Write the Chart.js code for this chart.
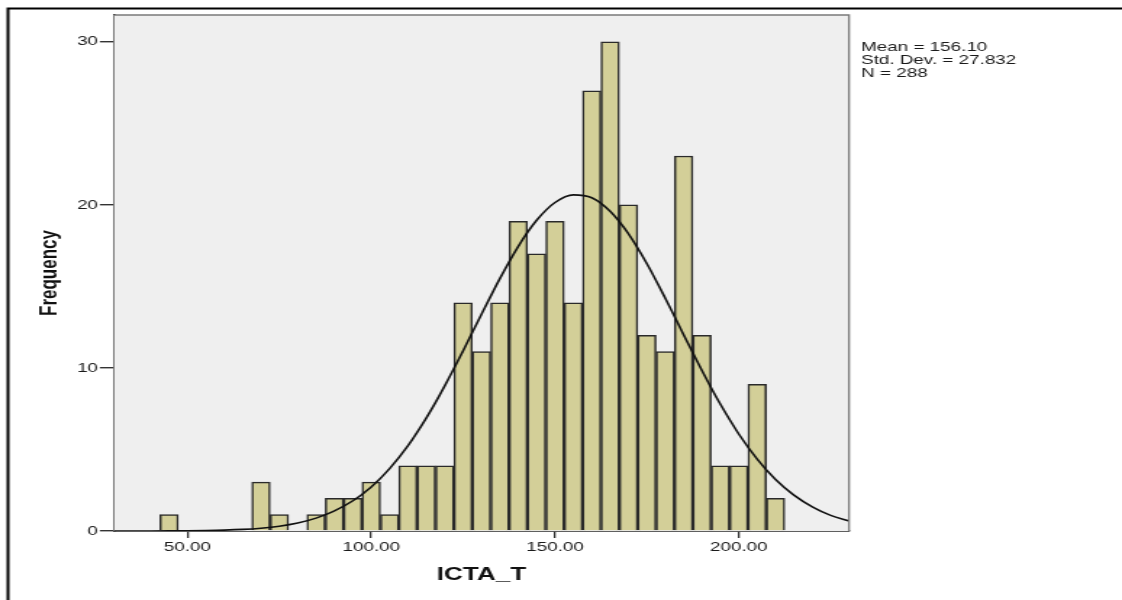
<!DOCTYPE html>
<html>
<head>
<meta charset="utf-8">
<script src="https://cdn.jsdelivr.net/npm/chart.js@4.4.1/dist/chart.umd.min.js"></script>
<style>
	html, body { margin: 0; padding: 0; background: #fff; overflow: hidden; }
	/* the source picture is stretched sideways, so the canvas is drawn narrow and widened */
	#wrapper-histogram { width: 774px; height: 600px; transform: scaleX(1.449612); transform-origin: 0 0; }
</style>
</head>
<body>
<div id="wrapper-histogram"><canvas id="histogram" width="774" height="600"></canvas></div>
<script>
const binCenters = [
	45, 50, 55, 60, 65, 70, 75, 80, 85, 90, 95, 100, 105, 110, 115, 120, 125,
	130, 135, 140, 145, 150, 155, 160, 165, 170, 175, 180, 185, 190, 195, 200, 205, 210,
];
const binCounts = [
	1, null, null, null, null, 3, 1, null, 1, 2, 2, 3, 1, 4, 4, 4, 14,
	11, 14, 19, 17, 19, 14, 27, 30, 20, 12, 11, 23, 12, 4, 4, 9, 2,
];

// normal curve
const curveX = [
	30, 35, 40, 45, 50, 55, 60, 65, 70, 75, 80, 85, 90, 95, 100, 105, 110, 115, 120, 125, 130,
	135, 140, 145, 150, 155, 160, 165, 170, 175, 180, 185, 190, 195, 200, 205, 210, 215, 220, 225, 230,
];
const curveY = [
	0.0007, 0.0016, 0.0034, 0.0071, 0.0144, 0.028, 0.053, 0.097, 0.173, 0.296, 0.491, 0.79, 1.23,
	1.853, 2.706, 3.827, 5.237, 6.94, 8.902, 11.06, 13.3, 15.48, 17.46, 19.06, 20.15, 20.62, 20.44,
	19.61, 18.22, 16.39, 14.28, 12.04, 9.83, 7.77, 5.95, 4.41, 3.16, 2.2, 1.48, 0.96, 0.61,
];

const xTicks = [50, 100, 150, 200];
const yTicks = [0, 10, 20, 30];
const statLines = ["Mean = 156.10", "Std. Dev. = 27.832", "N = 288"];

const fontName = "'Liberation Sans', Arial, sans-serif";

const frame = {
	id: "frame",
	beforeDatasetsDraw(chart) {
		let { ctx, chartArea } = chart;
		ctx.save();
		ctx.fillStyle = "#EFEFEF";
		ctx.fillRect(chartArea.left, chartArea.top, chartArea.right - chartArea.left, chartArea.bottom - chartArea.top);
		ctx.restore();
	},
	afterDraw(chart) {
		let { ctx, chartArea } = chart;
		ctx.save();
		// grey top and right edge of the plot
		ctx.strokeStyle = "#7a7a7a";
		ctx.lineWidth = 1.3;
		ctx.beginPath();
		ctx.moveTo(chartArea.left, chartArea.top);
		ctx.lineTo(chartArea.right, chartArea.top);
		ctx.lineTo(chartArea.right, chartArea.bottom);
		ctx.stroke();

		// outer black frame, top and left only
		ctx.strokeStyle = "#000";
		ctx.lineWidth = 2;
		ctx.beginPath();
		ctx.moveTo(5.5, 600);
		ctx.lineTo(5.5, 8.5);
		ctx.lineTo(774, 8.5);
		ctx.stroke();

		ctx.fillStyle = "#1a1a1a";
		ctx.font = "13px " + fontName;
		ctx.textAlign = "left";
		ctx.textBaseline = "alphabetic";
		statLines.forEach((line, idx) => {
			ctx.fillText(line, chartArea.right + 8.3, 50.7 + idx * 13);
		});
		ctx.restore();
	},
};

let ctx = document.getElementById("histogram").getContext("2d");

let histogram = new Chart(ctx, {
	type: "bar",
	data: {
		datasets: [
			{
				type: "line",
				label: "Normal",
				data: curveX.map((x, i) => ({ x: x, y: curveY[i] })),
				borderColor: "#111",
				borderWidth: 1.6,
				pointRadius: 0,
				cubicInterpolationMode: "monotone",
				fill: false,
				order: 0,
			},
			{
				type: "bar",
				label: "Frequency",
				data: binCenters.map((x, i) => ({ x: x, y: binCounts[i] })),
				backgroundColor: "#D3CF98",
				borderColor: "#2a2a2a",
				borderWidth: 1.5,
				barPercentage: 1,
				categoryPercentage: 1,
				order: 1,
			},
		],
	},
	options: {
		responsive: false,
		animation: false,
		devicePixelRatio: 1,
		layout: {
			padding: { left: 0, top: 15, right: 188.3, bottom: 0 },
		},
		plugins: {
			legend: { display: false },
			tooltip: { enabled: false },
		},
		scales: {
			x: {
				type: "linear",
				min: 30,
				max: 230,
				offset: false,
				grid: { offset: false, drawOnChartArea: false, tickLength: 7, tickColor: "#333", lineWidth: 1.3 },
				border: { color: "#2a2a2a", width: 1.8 },
				afterBuildTicks: (scale) => {
					scale.ticks = xTicks.map((v) => ({ value: v }));
				},
				afterFit: (scale) => {
					scale.height = 69;
				},
				ticks: {
					padding: 2,
					color: "#1a1a1a",
					font: { family: fontName, size: 13 },
					maxRotation: 0,
					callback: (v) => Number(v).toFixed(2),
				},
				title: {
					display: true,
					text: "ICTA_T",
					color: "#111",
					font: { family: fontName, size: 18, weight: "bold" },
					padding: { top: 0, bottom: 13.7 },
				},
			},
			y: {
				min: 0,
				max: 31.65,
				grid: { drawOnChartArea: false, tickLength: 9.7, tickColor: "#333", lineWidth: 1.4 },
				border: { color: "#2a2a2a", width: 1.8 },
				afterBuildTicks: (scale) => {
					scale.ticks = yTicks.map((v) => ({ value: v }));
				},
				afterFit: (scale) => {
					scale.width = 78.6;
				},
				ticks: {
					padding: 1.3,
					color: "#1a1a1a",
					font: { family: fontName, size: 13 },
				},
				title: {
					display: true,
					text: "Frequency",
					color: "#111",
					font: { family: fontName, size: 17, weight: "bold" },
					padding: { top: 23.8, bottom: 0 },
				},
			},
		},
	},
	plugins: [frame],
});
</script>
</body>
</html>
